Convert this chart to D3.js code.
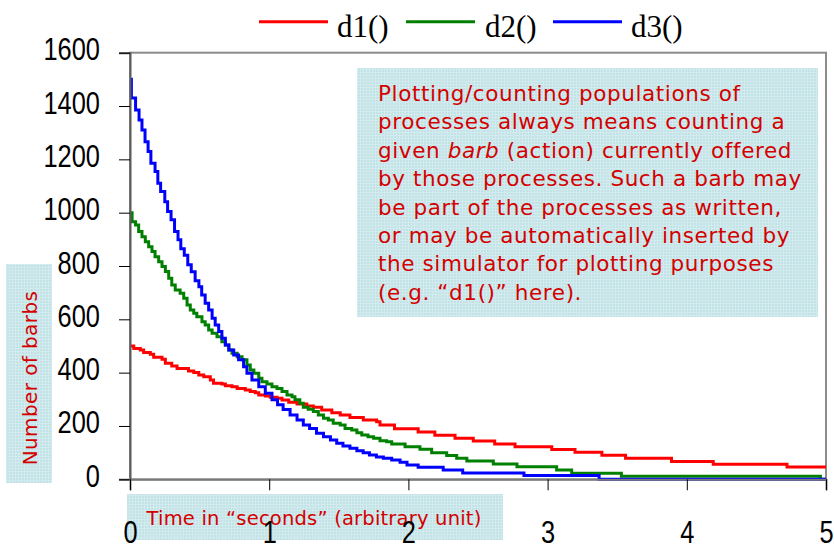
<!DOCTYPE html>
<html>
<head>
<meta charset="utf-8">
<script src="https://cdn.jsdelivr.net/npm/d3@7"></script>
<style>
  html, body { margin: 0; padding: 0; background: #fff; }
  svg { display: block; }
</style>
</head>
<body>
<svg id="chart" width="834" height="548"></svg>
<script>
// Populations of the three barbs over time, as [time, count] step points
const d1 = [[0,500],[0.027,491],[0.074,485],[0.098,476],[0.146,469],[0.17,458],[0.23,450],[0.254,435],[0.3,425],[0.338,416],[0.42,406],[0.458,401],[0.494,391],[0.53,385],[0.577,372],[0.6,360],[0.66,357],[0.685,351],[0.733,347],[0.77,341],[0.828,335],[0.864,329],[0.9,325],[0.925,316],[0.972,312],[1.008,308],[1.056,304],[1.092,297],[1.14,289],[1.2,282],[1.27,275],[1.317,270],[1.377,260],[1.45,250],[1.51,241],[1.58,232],[1.676,222],[1.772,216],[1.796,204],[1.9,190],[2.07,177],[2.19,165],[2.335,154],[2.466,144],[2.62,132],[2.766,122],[3.03,112],[3.197,101],[3.39,90],[3.56,79],[3.89,67],[4.19,56],[4.72,46],[5,46]];

const d2 = [[0,1000],[0.015,966],[0.04,954],[0.062,929],[0.086,910],[0.11,891],[0.134,872],[0.158,854],[0.18,835],[0.206,816],[0.23,798],[0.254,779],[0.278,754],[0.3,729],[0.325,710],[0.36,698],[0.386,679],[0.41,654],[0.433,635],[0.458,623],[0.48,610],[0.517,591],[0.54,579],[0.565,560],[0.59,548],[0.625,535],[0.66,516],[0.685,504],[0.71,485],[0.733,473],[0.77,460],[0.805,448],[0.84,429],[0.864,410],[0.89,398],[0.925,379],[0.948,366],[0.984,357],[1.02,347],[1.056,341],[1.092,329],[1.128,316],[1.164,310],[1.185,298],[1.22,285],[1.245,270],[1.28,263],[1.317,254],[1.353,241],[1.39,229],[1.425,222],[1.46,210],[1.51,204],[1.545,191],[1.593,185],[1.63,175],[1.665,166],[1.71,160],[1.75,154],[1.796,145],[1.844,141],[1.88,132],[1.976,122],[2.083,113],[2.167,100],[2.275,89],[2.347,79],[2.42,69],[2.61,57],[2.78,47],[3.065,35],[3.173,23],[3.53,11],[4.96,0],[5,0]];

const d3data = [[0,1500],[0.01,1430],[0.04,1385],[0.065,1348],[0.086,1310],[0.108,1266],[0.13,1229],[0.15,1185],[0.18,1154],[0.2,1110],[0.22,1079],[0.25,1041],[0.27,1004],[0.295,973],[0.32,929],[0.345,898],[0.365,865],[0.39,840],[0.415,805],[0.44,778],[0.468,745],[0.495,722],[0.515,691],[0.54,660],[0.565,635],[0.59,604],[0.612,579],[0.637,554],[0.66,529],[0.685,504],[0.71,485],[0.745,466],[0.78,448],[0.816,422],[0.84,398],[0.876,372],[0.925,347],[0.972,323],[1.02,298],[1.06,280],[1.1,262],[1.15,241],[1.2,222],[1.245,204],[1.29,191],[1.34,173],[1.39,160],[1.44,147],[1.485,135],[1.53,125],[1.58,116],[1.63,107],[1.675,100],[1.72,91],[1.77,84],[1.82,79],[1.88,72],[1.94,64],[1.99,54],[2.07,45],[2.25,35],[2.39,24],[2.83,14],[3.37,0],[5,0]];

const seriesNames = ["d1()", "d2()", "d3()"];
const seriesColors = ["#ff0000", "#008000", "#0000ff"];
const seriesData = [d1, d2, d3data];

const xTicks = [0, 1, 2, 3, 4, 5];
const yTicks = [0, 200, 400, 600, 800, 1000, 1200, 1400, 1600];

const noteLines = [
  ["Plotting/counting populations of"],
  ["processes always means counting a"],
  ["given ", ["barb", true], " (action) currently offered"],
  ["by those processes. Such a barb may"],
  ["be part of the processes as written,"],
  ["or may be automatically inserted by"],
  ["the simulator for plotting purposes"],
  ["(e.g. \u201cd1()\u201d here)."]
];
const yTitle = "Number of barbs";
const xTitle = "Time in \u201cseconds\u201d (arbitrary unit)";

const svg = d3.select("#chart");
const plot = { left: 130, right: 826, top: 52.7, bottom: 479.3 };
const x = d3.scaleLinear().domain([0, 5]).range([plot.left, plot.right]);
const y = d3.scaleLinear().domain([0, 1600]).range([plot.bottom, plot.top]);

const handFont = "'Comic Sans MS', 'DejaVu Sans', sans-serif";
const noteRed = "#d40000";

// textured light-teal fill used by the annotation boxes
const defs = svg.append("defs");
const pat = defs.append("pattern").attr("id", "teal").attr("patternUnits", "userSpaceOnUse")
  .attr("width", 3).attr("height", 3);
pat.append("rect").attr("width", 3).attr("height", 3).attr("fill", "#c2e2e6");
pat.append("rect").attr("width", 3).attr("height", 1).attr("fill", "#d2ebee");
pat.append("rect").attr("width", 1).attr("height", 3).attr("fill", "#d2ebee");

// plot frame
svg.append("rect")
  .attr("x", plot.left).attr("y", plot.top)
  .attr("width", plot.right - plot.left).attr("height", plot.bottom - plot.top)
  .attr("fill", "none").attr("stroke", "#8c8c8c").attr("stroke-width", 2);

// series
const line = d3.line().x(d => x(d[0])).y(d => y(d[1])).curve(d3.curveStepAfter);
seriesData.forEach((data, i) => {
  svg.append("path").datum(data)
    .attr("d", line)
    .attr("fill", "none")
    .attr("stroke", seriesColors[i])
    .attr("stroke-width", 3)
    .attr("stroke-linejoin", "miter");
});

// axis title boxes
svg.append("rect").attr("x", 127).attr("y", 494).attr("width", 376).attr("height", 46)
  .attr("fill", "url(#teal)");
svg.append("text").attr("x", 314).attr("y", 525).attr("text-anchor", "middle")
  .attr("font-family", handFont).attr("font-size", 19.5).attr("letter-spacing", 0.2)
  .attr("fill", noteRed)
  .text(xTitle);

svg.append("rect").attr("x", 6).attr("y", 264).attr("width", 46).attr("height", 219)
  .attr("fill", "url(#teal)");
svg.append("text").attr("transform", "translate(37,378) rotate(-90)")
  .attr("text-anchor", "middle")
  .attr("font-family", handFont).attr("font-size", 20).attr("letter-spacing", 0.4)
  .attr("fill", noteRed)
  .text(yTitle);

// axes
const axisFont = "'Liberation Sans', Arial, sans-serif";
const yAxis = svg.append("g").attr("transform", `translate(${plot.left},0)`)
  .call(d3.axisLeft(y).tickValues(yTicks).tickSize(11).tickFormat(d3.format("d")));
yAxis.select(".domain").attr("stroke", "#5a5a5a").attr("stroke-width", 2);
yAxis.selectAll(".tick line").attr("stroke", "#000").attr("stroke-width", 1);
yAxis.selectAll(".tick text")
  .attr("font-family", axisFont).attr("font-size", 31).attr("fill", "#000")
  .attr("x", -30 / 0.82).attr("dy", 0).attr("y", 7)
  .attr("transform", "scale(0.82,1)");

const xAxis = svg.append("g").attr("transform", `translate(0,${plot.bottom})`)
  .call(d3.axisBottom(x).tickValues(xTicks).tickSize(11).tickFormat(d3.format("d")));
xAxis.select(".domain").attr("stroke", "#7a7a7a").attr("stroke-width", 2);
xAxis.selectAll(".tick line").attr("stroke", "#000").attr("stroke-width", 1);
xAxis.selectAll(".tick text")
  .attr("font-family", axisFont).attr("font-size", 31).attr("fill", "#000")
  .attr("y", 64).attr("dy", 0)
  .attr("transform", "scale(0.82,1)");

// legend
const legendItems = [
  { x1: 259, x2: 328, tx: 337 },
  { x1: 406, x2: 475, tx: 485 },
  { x1: 553, x2: 622, tx: 631 }
];
legendItems.forEach((it, i) => {
  svg.append("line").attr("x1", it.x1).attr("x2", it.x2).attr("y1", 21.7).attr("y2", 21.7)
    .attr("stroke", seriesColors[i]).attr("stroke-width", 3);
  svg.append("text").attr("x", it.tx).attr("y", 37)
    .attr("font-family", "'Liberation Serif', 'Times New Roman', serif")
    .attr("font-size", 31).attr("fill", "#000")
    .text(seriesNames[i]);
});

// explanatory note
svg.append("rect").attr("x", 357).attr("y", 68).attr("width", 461).attr("height", 249)
  .attr("fill", "url(#teal)");
const note = svg.append("text")
  .attr("font-family", handFont).attr("font-size", 21.5).attr("letter-spacing", 0.6)
  .attr("fill", noteRed);
noteLines.forEach((parts, i) => {
  const row = note.append("tspan").attr("x", 378).attr("y", 101 + i * 28.4);
  parts.forEach((p, j) => {
    const isArr = Array.isArray(p);
    const ts = j === 0 ? row : note.append("tspan");
    ts.text(isArr ? p[0] : p);
    if (isArr && p[1]) ts.attr("font-style", "italic");
  });
});
</script>
</body>
</html>
